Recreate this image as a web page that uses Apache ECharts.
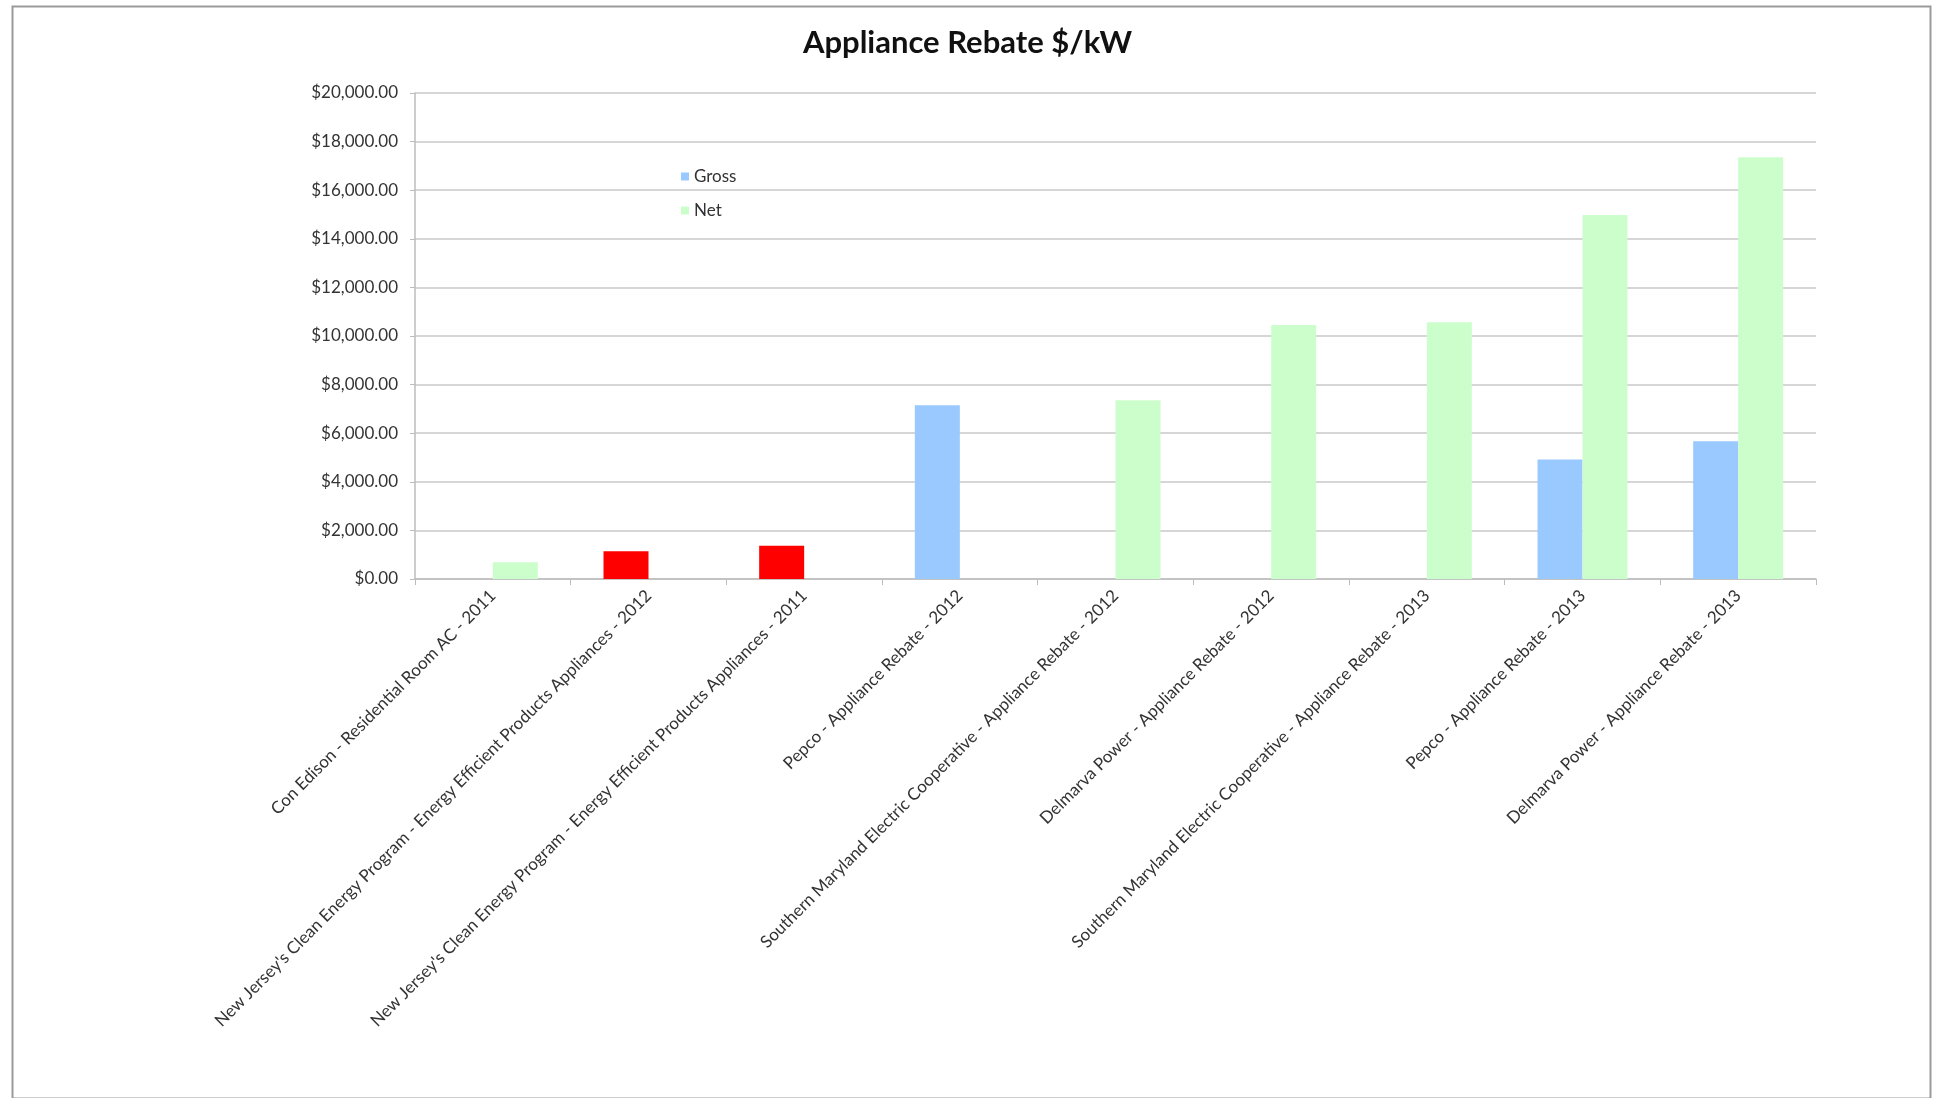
<!DOCTYPE html>
<html>
<head>
<meta charset="utf-8">
<script src="https://cdn.jsdelivr.net/npm/echarts@6/dist/echarts.min.js"></script>
<style>
html,body{margin:0;padding:0;background:#fff;}
#chart{width:1935px;height:1098px;}
</style>
</head>
<body>
<div id="chart"></div>
<script>
const categories = [
  "Con Edison - Residential Room AC - 2011",
  "New Jersey's Clean Energy Program - Energy Efficient Products Appliances - 2012",
  "New Jersey's Clean Energy Program - Energy Efficient Products Appliances - 2011",
  "Pepco - Appliance Rebate - 2012",
  "Southern Maryland Electric Cooperative - Appliance Rebate - 2012",
  "Delmarva Power - Appliance Rebate - 2012",
  "Southern Maryland Electric Cooperative - Appliance Rebate - 2013",
  "Pepco - Appliance Rebate - 2013",
  "Delmarva Power - Appliance Rebate - 2013"
];
const grossValues = [null, 1140, 1370, 7150, null, null, null, 4920, 5670];
const netValues = [690, null, null, null, 7360, 10450, 10570, 14980, 17360];
const highlightedGross = [1, 2];
const yTicks = [0, 2000, 4000, 6000, 8000, 10000, 12000, 14000, 16000, 18000, 20000];

const FONT = 'Lato, "Open Sans", sans-serif';
const grossData = grossValues.map((v, i) =>
  highlightedGross.includes(i) ? { value: v, itemStyle: { color: '#ff0000' } } : v);

const chart = echarts.init(document.getElementById('chart'), null, { renderer: 'canvas' });
chart.setOption({
  backgroundColor: '#ffffff',
  animation: false,
  graphic: [{
    type: 'rect', left: 10, top: 4,
    shape: { width: 1918, height: 1092 },
    style: { fill: 'none', stroke: '#9a9a9a', lineWidth: 2 },
    silent: true
  }],
  title: {
    text: 'Appliance Rebate $/kW',
    left: 'center', top: 22,
    textStyle: { fontFamily: FONT, fontSize: 31, fontWeight: 'bold', color: '#111' }
  },
  legend: {
    orient: 'vertical',
    left: 676, top: 163,
    itemWidth: 8, itemHeight: 8, itemGap: 17,
    icon: 'rect',
    textStyle: { fontFamily: FONT, fontSize: 17, color: '#333' },
    data: ['Gross', 'Net']
  },
  grid: { left: 415, right: 119, top: 93, bottom: 519, containLabel: false },
  xAxis: {
    type: 'category',
    data: categories,
    axisLine: { lineStyle: { color: '#bdbdbd', width: 1.5 } },
    axisTick: { show: true, length: 6, lineStyle: { color: '#bdbdbd' } },
    axisLabel: {
      rotate: 45, interval: 0, margin: 14,
      fontFamily: FONT, fontSize: 17, color: '#333'
    }
  },
  yAxis: {
    type: 'value',
    min: yTicks[0], max: yTicks[yTicks.length - 1], interval: 2000,
    axisLine: { show: true, lineStyle: { color: '#bdbdbd', width: 1.5 } },
    axisTick: { show: true, length: 5, lineStyle: { color: '#bdbdbd' } },
    splitLine: { lineStyle: { color: '#d6d6d6', width: 2 } },
    axisLabel: {
      margin: 17,
      fontFamily: FONT, fontSize: 17, color: '#333',
      formatter: v => '$' + v.toLocaleString('en-US', { minimumFractionDigits: 2, maximumFractionDigits: 2 })
    }
  },
  series: [
    {
      name: 'Gross', type: 'bar', data: grossData,
      barWidth: 45, barGap: '0%',
      itemStyle: { color: '#99c9ff' }
    },
    {
      name: 'Net', type: 'bar', data: netValues,
      barWidth: 45, barGap: '0%',
      itemStyle: { color: '#ccfecc' }
    }
  ]
});
</script>
</body>
</html>
